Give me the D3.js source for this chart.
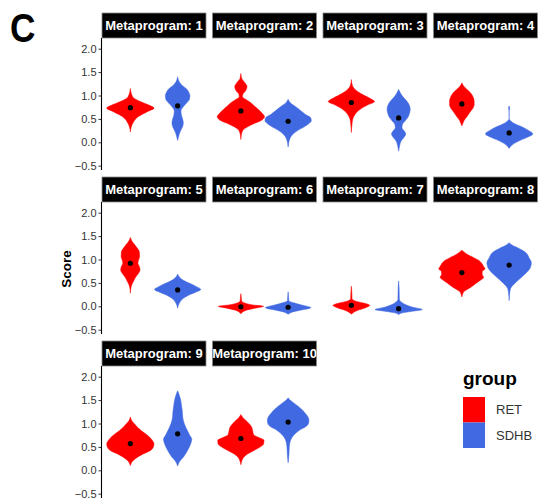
<!DOCTYPE html>
<html>
<head>
<meta charset="utf-8">
<script src="https://cdn.jsdelivr.net/npm/d3@7"></script>
<style>
  body { margin: 0; background: #fff; }
  text { font-family: "Liberation Sans", Arial, sans-serif; }
</style>
</head>
<body>
<svg id="chart" width="541" height="498"></svg>
<script>
const svg = d3.select('#chart');

// facets and groups
const panels = ['1', '2', '3', '4', '5', '6', '7', '8', '9', '10'];
const groups = ['RET', 'SDHB'];
const colors = ['#FF0000', '#4169E1'];
const yTicks = [-0.5, 0, 0.5, 1, 1.5, 2];

// mean score per metaprogram
const meanRET  = [0.74, 0.67, 0.85, 0.82, 0.92, -0.01, 0.02, 0.72, 0.57, 0.68];
const meanSDHB = [0.78, 0.45, 0.52, 0.20, 0.35, -0.02, -0.05, 0.88, 0.78, 1.03];

// violin outlines: [score, half width in group units]
const violinRET = [
  [[1.15,0],[0.97,0.05],[0.87,0.21],[0.80,0.38],[0.73,0.50],[0.65,0.35],[0.55,0.17],[0.44,0.07],[0.33,0.02],[0.22,0]],
  [[1.47,0],[1.36,0.02],[1.28,0.08],[1.19,0.13],[1.10,0.10],[1.02,0.04],[0.97,0.035],[0.92,0.10],[0.86,0.19],[0.78,0.28],[0.70,0.37],[0.62,0.45],[0.55,0.50],[0.47,0.44],[0.40,0.28],[0.33,0.14],[0.25,0.04],[0.15,0.01],[0.06,0]],
  [[1.34,0],[1.22,0.02],[1.12,0.09],[1.02,0.24],[0.94,0.39],[0.87,0.49],[0.80,0.35],[0.70,0.18],[0.60,0.08],[0.50,0.03],[0.40,0.015],[0.21,0]],
  [[1.27,0],[1.20,0.04],[1.13,0.11],[1.05,0.19],[0.96,0.24],[0.88,0.26],[0.80,0.26],[0.72,0.23],[0.64,0.17],[0.55,0.11],[0.47,0.05],[0.40,0.02],[0.35,0]],
  [[1.47,0],[1.40,0.03],[1.33,0.08],[1.25,0.14],[1.16,0.19],[1.06,0.195],[0.98,0.17],[0.92,0.16],[0.85,0.19],[0.78,0.205],[0.70,0.17],[0.62,0.11],[0.54,0.07],[0.46,0.03],[0.38,0.01],[0.28,0]],
  [[0.27,0],[0.20,0.008],[0.12,0.015],[0.07,0.08],[0.03,0.25],[0.0,0.48],[-0.04,0.30],[-0.08,0.13],[-0.12,0.04],[-0.16,0]],
  [[0.43,0],[0.30,0.01],[0.16,0.015],[0.11,0.09],[0.06,0.30],[0.02,0.39],[-0.03,0.30],[-0.07,0.18],[-0.11,0.08],[-0.17,0]],
  [[1.20,0],[1.15,0.06],[1.10,0.13],[1.04,0.25],[0.98,0.36],[0.92,0.42],[0.85,0.46],[0.80,0.49],[0.74,0.43],[0.68,0.43],[0.62,0.46],[0.56,0.40],[0.50,0.31],[0.43,0.22],[0.37,0.13],[0.32,0.05],[0.27,0.02],[0.20,0]],
  [[1.14,0],[1.06,0.03],[1.00,0.08],[0.92,0.15],[0.84,0.24],[0.75,0.36],[0.66,0.45],[0.56,0.50],[0.48,0.48],[0.42,0.42],[0.35,0.27],[0.28,0.15],[0.21,0.06],[0.10,0]],
  [[1.19,0],[1.13,0.04],[1.08,0.09],[1.00,0.17],[0.92,0.23],[0.84,0.25],[0.76,0.27],[0.70,0.38],[0.64,0.49],[0.56,0.48],[0.48,0.38],[0.42,0.27],[0.35,0.14],[0.28,0.06],[0.20,0.02],[0.12,0]]
];
const violinSDHB = [
  [[1.40,0],[1.30,0.03],[1.22,0.09],[1.15,0.18],[1.06,0.24],[1.0,0.26],[0.92,0.25],[0.84,0.19],[0.76,0.12],[0.67,0.07],[0.58,0.08],[0.48,0.11],[0.40,0.12],[0.32,0.10],[0.22,0.05],[0.12,0.02],[0.04,0]],
  [[0.92,0],[0.84,0.05],[0.76,0.16],[0.68,0.26],[0.60,0.36],[0.52,0.48],[0.46,0.49],[0.40,0.44],[0.33,0.34],[0.25,0.20],[0.16,0.09],[0.06,0.03],[-0.03,0.01],[-0.10,0]],
  [[1.13,0],[1.05,0.04],[0.96,0.10],[0.87,0.18],[0.78,0.23],[0.70,0.245],[0.62,0.23],[0.54,0.20],[0.46,0.14],[0.38,0.08],[0.31,0.07],[0.24,0.12],[0.18,0.15],[0.10,0.11],[0.02,0.05],[-0.08,0.02],[-0.19,0]],
  [[0.77,0],[0.76,0.01],[0.70,0.01],[0.68,0],[0.51,0],[0.45,0.04],[0.40,0.11],[0.33,0.27],[0.26,0.40],[0.18,0.50],[0.10,0.37],[0.02,0.19],[-0.06,0.06],[-0.13,0]],
  [[0.69,0],[0.62,0.04],[0.55,0.13],[0.48,0.28],[0.42,0.40],[0.36,0.49],[0.30,0.38],[0.24,0.24],[0.17,0.12],[0.09,0.05],[0.02,0.015],[-0.04,0]],
  [[0.31,0],[0.22,0.008],[0.12,0.015],[0.08,0.10],[0.03,0.28],[-0.03,0.48],[-0.08,0.28],[-0.12,0.10],[-0.17,0]],
  [[0.54,0],[0.40,0.01],[0.15,0.015],[0.08,0.07],[0.02,0.18],[-0.02,0.30],[-0.07,0.50],[-0.11,0.26],[-0.14,0.08],[-0.18,0]],
  [[1.36,0],[1.31,0.06],[1.25,0.18],[1.15,0.35],[1.04,0.42],[0.93,0.47],[0.83,0.45],[0.72,0.37],[0.61,0.25],[0.51,0.14],[0.44,0.07],[0.38,0.03],[0.30,0.015],[0.12,0]],
  [[1.70,0],[1.62,0.03],[1.52,0.06],[1.40,0.08],[1.25,0.10],[1.12,0.11],[1.00,0.14],[0.88,0.19],[0.76,0.25],[0.66,0.30],[0.58,0.28],[0.48,0.24],[0.37,0.18],[0.28,0.12],[0.20,0.05],[0.09,0]],
  [[1.55,0],[1.50,0.04],[1.44,0.12],[1.37,0.21],[1.30,0.29],[1.22,0.36],[1.14,0.42],[1.07,0.44],[1.00,0.43],[0.93,0.37],[0.87,0.26],[0.80,0.17],[0.74,0.11],[0.66,0.06],[0.58,0.035],[0.50,0.025],[0.35,0.018],[0.16,0]]
];

// layout
const left0 = 102, panelW = 104, colStep = 110.5;
const top0 = 13, rowStep = 164, stripH = 25, panelH = 132;
const ncol = 4;

const x = d3.scaleLinear().domain([0.4, 2.6]).range([0, panelW]);
const w = d3.scaleLinear().domain([0, 1]).range([0, x(2) - x(1)]);
const y = d3.scaleLinear().domain([-0.5, 2.0]).range([152.7 - stripH, 35.7 - stripH]);

svg.append('text')
  .attr('transform', 'translate(10,42) scale(0.86,1)')
  .style('font-size', '41px')
  .style('font-weight', 'bold')
  .text('C');

panels.forEach((p, i) => {
  const col = i % ncol, row = Math.floor(i / ncol);
  const px = left0 + col * colStep;
  const py = top0 + row * rowStep;

  // strip
  const clipId = 'clip' + i;
  svg.append('clipPath').attr('id', clipId)
    .append('rect').attr('x', px).attr('y', py).attr('width', panelW).attr('height', stripH);
  svg.append('rect')
    .attr('x', px).attr('y', py).attr('width', panelW).attr('height', stripH)
    .attr('fill', '#000').attr('stroke', '#888').attr('stroke-width', 0.8);
  svg.append('text')
    .attr('clip-path', `url(#${clipId})`)
    .attr('x', px + panelW / 2).attr('y', py + 16.8)
    .attr('text-anchor', 'middle')
    .attr('fill', '#fff')
    .style('font-size', '13px')
    .style('font-weight', 'bold')
    .text('Metaprogram: ' + p);

  const g = svg.append('g').attr('transform', `translate(${px},${py + stripH})`);

  if (col === 0) {
    const ax = g.append('g')
      .call(d3.axisLeft(y).tickValues(yTicks).tickFormat(d3.format('.1f')).tickSize(3.5).tickPadding(2));
    ax.select('.domain').remove();
    ax.selectAll('.tick line').attr('stroke', '#333');
    ax.selectAll('.tick text').attr('fill', '#333').style('font-size', '11px')
      .style('font-family', '"Liberation Sans", Arial, sans-serif');
    g.append('line').attr('x1', -0.5).attr('x2', -0.5).attr('y1', 0).attr('y2', panelH)
      .attr('stroke', '#000').attr('stroke-width', 1.1);
  }

  [violinRET[i], violinSDHB[i]].forEach((prof, k) => {
    const cx = x(k + 1);
    const area = d3.area()
      .curve(d3.curveMonotoneY)
      .y(d => y(d[0]))
      .x0(d => cx - w(d[1]))
      .x1(d => cx + w(d[1]));
    g.append('path')
      .attr('d', area(prof))
      .attr('fill', colors[k])
      .attr('stroke', colors[k])
      .attr('stroke-width', 0.5);
  });

  [meanRET[i], meanSDHB[i]].forEach((m, k) => {
    g.append('circle')
      .attr('cx', x(k + 1)).attr('cy', y(m)).attr('r', 2.6)
      .attr('fill', '#000');
  });
});

// y label
svg.append('text')
  .attr('transform', 'translate(71,269) rotate(-90)')
  .attr('text-anchor', 'middle')
  .style('font-size', '13.5px')
  .style('font-weight', 'bold')
  .text('Score');

// legend
const legend = svg.append('g').attr('transform', 'translate(463,0)');
legend.append('text')
  .attr('x', 0).attr('y', 385)
  .style('font-size', '19px')
  .style('font-weight', 'bold')
  .text('group');
groups.forEach((gr, k) => {
  legend.append('rect')
    .attr('x', 0).attr('y', 397 + k * 25.5)
    .attr('width', 22).attr('height', 25.5)
    .attr('fill', colors[k]);
  legend.append('text')
    .attr('x', 33).attr('y', 397 + k * 25.5 + 12.75)
    .attr('dy', '0.35em')
    .attr('fill', '#333')
    .style('font-size', '13px')
    .text(gr);
});
</script>
</body>
</html>
